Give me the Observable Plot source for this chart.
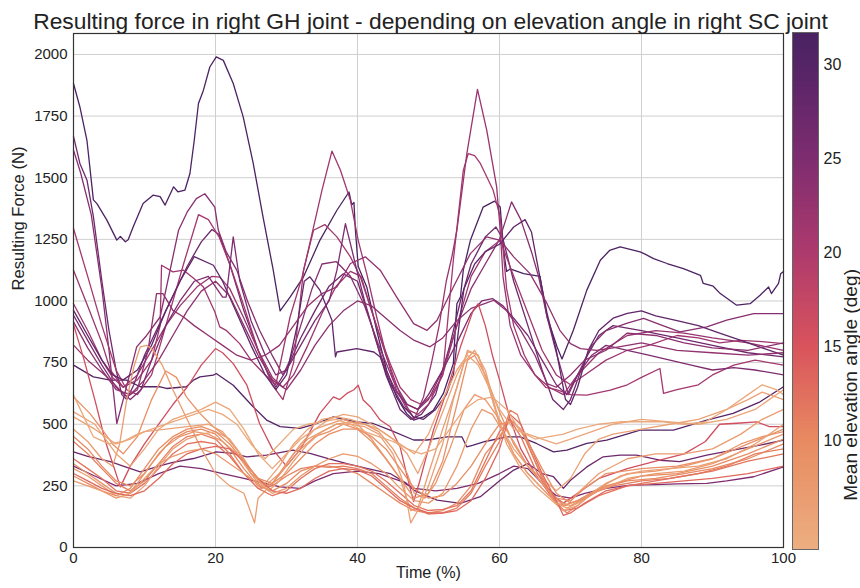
<!DOCTYPE html>
<html><head><meta charset="utf-8">
<script src="https://cdn.jsdelivr.net/npm/d3@7"></script>
<script src="https://cdn.jsdelivr.net/npm/@observablehq/plot@0.6"></script>
<style>
body{margin:0;background:#fff;font-family:"Liberation Sans",Arial,sans-serif;}
#wrap{position:relative;width:860px;height:588px;overflow:hidden;background:#fff}
#main{position:absolute;left:0;top:0}
#cbar{position:absolute;left:770px;top:0}
.lbl{position:absolute;white-space:nowrap;color:#222;line-height:1}
</style></head><body>
<div id="wrap"><div id="main"></div><div id="cbar"></div>
<span id="title" class="lbl">Resulting force in right GH joint - depending on elevation angle in right SC joint</span>
</div>
<script>
// ---------- data (time %, force N) ----------
const xTicks = [0, 20, 40, 60, 80, 100];
const yTicks = [0, 250, 500, 750, 1000, 1250, 1500, 1750, 2000];
const cbTicks = [10, 15, 20, 25, 30];
const angleRange = [4.2, 31.7];

const sA = [[0,1882],[0.9,1787],[1.9,1650],[2.8,1410],[3.3,1395],[4.7,1328],[6.1,1247],[6.6,1262],[7.3,1240],[7.7,1248],[8.4,1300],[9.8,1395],[11.2,1429],[12.2,1423],[12.9,1389],[14.1,1463],[14.7,1443],[15.7,1450],[16.4,1517],[17,1650],[17.6,1801],[18.3,1855],[19.2,1949],[20.1,1990],[21.1,1976],[22.5,1882],[23.9,1747],[25.3,1560],[26.7,1340],[28.1,1130],[29.1,960],[30.5,1016],[32.4,1098],[34.7,1246],[37.1,1368],[38.8,1442],[39.2,1390],[39.5,1400],[39.7,1290],[40.1,1140],[41.3,1057],[42.7,881],[44.1,719],[45.5,611],[46.9,544],[47.9,517],[49.3,530],[50.7,557],[52.1,625],[53.5,746],[53.8,900],[54,989],[54.5,1016],[54.9,1125],[55.9,1246],[57.7,1381],[59.3,1405],[60.1,1381],[60.6,1200],[61,1120],[61.5,1130],[63.4,1111],[65.7,1100],[66.7,935],[68.1,814],[68.8,765],[70.4,881],[72.3,1044],[74.2,1165],[75.5,1205],[77,1219],[79.8,1199],[80.5,1190],[81.7,1172],[83.6,1152],[85.9,1131],[88.3,1104],[88.7,1071],[90.1,1060],[91.1,1030],[93.4,983],[95.3,989],[96.7,1023],[97.9,1057],[98.3,1030],[99.3,1071],[99.6,1110],[100,1120]];
const sU2 = [[0,1668],[0.9,1558],[1.9,1490],[2.8,1342],[4,1080],[5,880],[6,720],[6.8,620],[7.5,600],[8.5,660],[10,780],[12,900],[14,1020],[16,1140],[18,1240],[19.5,1290],[20.5,1270],[22,1150],[24,960],[26,800],[27.5,700],[28.5,650],[30,720],[32,850],[34,960],[36,1060],[38,1110],[40,1080],[42,900],[44,700],[46,560],[47.5,520],[49,540],[51,620],[53,820],[54.5,1000],[56,1150],[58,1260],[59.5,1300],[60.5,1250],[62,1080],[64,900],[66,720],[67.5,600],[69,560],[70,600],[72,760],[74,860],[76,900],[80,880],[85,850],[90,820],[95,790],[100,773]];
const sU3 = [[0,1612],[1,1520],[2.5,1350],[4,1050],[5,800],[6.1,503],[7,600],[8.9,814],[10.3,860],[12.2,935],[14.8,1287],[16,1360],[17.3,1415],[18.5,1435],[19.9,1381],[20.4,1287],[21.5,1200],[23,1125],[24.5,1000],[26.2,881],[28.1,773],[29.5,700],[30.5,760],[32,900],[33.6,1050],[35,1150],[37,1160],[39,1100],[41,980],[43,820],[45,680],[47,580],[48.5,560],[50,600],[52,720],[54,900],[56,1050],[58,1150],[60,1250],[61.7,1402],[63,1330],[64.5,1200],[65.5,1100],[66.7,935],[68.1,780],[69.7,620],[71,700],[73,820],[75,880],[78,910],[80.3,929],[83,900],[85.4,875],[89.2,895],[92,922],[95.8,949],[100,949]];
const sU4 = [[0,1294],[2,1100],[4,900],[6,720],[7.5,640],[9,620],[11,700],[13,900],[15.5,1150],[17.6,1350],[19,1330],[20.5,1260],[22,1150],[24,980],[26,800],[28,660],[29.5,600],[31,750],[32.4,1125],[33.8,1287],[35.4,1310],[37.1,1260],[39,1179],[40.4,1098],[41.8,976],[43.2,854],[44.6,746],[46,650],[47.5,600],[49,580],[50.5,620],[52,700],[53.5,1166],[54.9,1530],[55.6,1598],[56.5,1590],[57.3,1558],[59.1,1450],[60.1,1341],[61,1050],[62,900],[63.5,780],[65,700],[66.5,650],[68,640],[70,620],[72.3,618],[75.6,638],[78,660],[80,690],[82.6,726],[83.1,625],[85,640],[88,660],[90,700],[93,740],[96,760],[100,740]];
const sU5 = [[0,1125],[2,980],[4,830],[5.2,719],[7,650],[9,700],[11,800],[13,900],[15,980],[17.5,1060],[19.5,1100],[20.6,1097],[22,1050],[24,930],[26,800],[28,690],[29.5,650],[31,700],[33,820],[35,950],[37,1060],[39,1120],[40.5,1100],[42,960],[44,780],[46,620],[48,520],[49.3,611],[50.5,760],[51.5,900],[52.5,1080],[53.3,1180],[54,1287],[55.4,1598],[56.9,1858],[58.2,1693],[59.6,1463],[60.1,1287],[60.5,1098],[61.5,900],[63,780],[65,700],[67,650],[69,620],[71,700],[74,790],[78,860],[82,880],[86,870],[90,850],[95,830],[100,800]];
const sU6 = [[0,989],[2,880],[4,760],[5.5,690],[7,650],[9,680],[11,760],[12.2,900],[12.4,1145],[14,1118],[15.5,1125],[17,1090],[18.3,1057],[19.9,956],[20.6,895],[21.5,881],[23.4,827],[25,760],[27,700],[28.5,660],[30.5,935],[32.2,1098],[33.6,1273],[35,1450],[36.4,1608],[37.6,1530],[39,1408],[40.1,1246],[41.3,1111],[42.7,935],[44.1,773],[45.5,638],[47,560],[48.5,540],[50,580],[52,700],[54,900],[56,1100],[58,1200],[60.1,1246],[62,1100],[64,950],[66,800],[68,700],[70,660],[72,700],[75,760],[78,800],[81,820],[85,860],[88,850],[91,830],[94,840],[97,835],[100,827]];
const sU7 = [[0,962],[2,860],[4,760],[5.5,700],[7,680],[9,720],[11,820],[13,960],[15,1080],[17,1180],[19.7,1145],[21,1080],[23,950],[25,820],[27,700],[28.5,640],[30,700],[31.5,900],[32.5,1080],[33.3,1098],[34.7,1044],[36.4,922],[36.9,773],[37.1,793],[39.9,807],[42.3,793],[43.2,773],[44.6,665],[46.5,571],[47.9,530],[49.3,520],[51,560],[52.5,620],[53.5,700],[54.3,900],[55,1050],[56.5,1150],[58,1200],[60,1230],[62,1300],[63.6,1330],[64.5,1280],[65.5,1125],[66.7,950],[68,800],[69.3,600],[70,580],[71,650],[72.5,800],[74,880],[76,930],[78,950],[80,960],[82,940],[85,920],[88,900],[91,870],[94,840],[97,810],[100,780]];
const sU8 = [[0,942],[2,840],[4,740],[6,650],[8,600],[9.5,640],[11,760],[13,900],[15,1000],[17,1080],[19,1100],[21,1016],[21.5,1016],[22.5,1260],[23.4,1084],[25,920],[27,780],[28.5,700],[30,720],[32,820],[34,920],[36,1000],[37.1,1125],[38.3,1314],[39,1233],[39.9,1125],[41,1000],[42.5,850],[44,720],[45.5,630],[47,580],[48.5,560],[50,620],[52,720],[54,830],[56,950],[57.5,1000],[59,1010],[60.5,980],[62,930],[64,860],[66,760],[68,660],[69.5,620],[71,700],[73,780],[75,820],[78,800],[81,780],[84,760],[87,740],[90,720],[93,730],[96,720],[100,700]];
const sU9 = [[0,821],[2,760],[4,710],[5.2,679],[7.5,611],[9,640],[10.5,800],[11.7,1030],[12.6,1030],[14,962],[15.5,935],[17,900],[19,860],[21,820],[23,780],[25,760],[27,780],[29,820],[31,900],[33,980],[35,1030],[37.1,1057],[39,1152],[41.1,1179],[43.2,1125],[45.5,1017],[47.9,908],[49.8,881],[51.2,922],[53.5,1057],[55.9,1192],[58.2,1260],[60.1,1246],[62,1179],[64.3,1111],[66.7,989],[68.5,881],[70,827],[71.4,807],[73.7,800],[76,810],[80,830],[85,800],[90,790],[95,780],[100,790]];
const sU10 = [[0,740],[2.8,692],[5.2,679],[7.5,679],[9.4,652],[12.2,652],[13.1,645],[15.9,652],[16.9,679],[17.8,692],[19.7,699],[20.1,706],[22.5,658],[25.3,571],[27.2,517],[29.1,490],[31.9,483],[34,500],[36.6,530],[38,520],[39.9,510],[42.2,503],[44.6,476],[47.9,436],[49.8,436],[52.6,449],[54.7,449],[55.4,408],[56.3,415],[58,430],[61,449],[62.9,449],[65.2,422],[67.6,388],[69.5,395],[72.3,422],[75.1,436],[79.8,476],[84.5,476],[89.2,517],[92.9,544],[96.7,591],[100,652]];
const sU11 = [[0,915],[2,810],[4,720],[6,640],[8,620],[10,680],[12,760],[14,860],[16,960],[18,1040],[20,1080],[22,1020],[24,900],[26,780],[28,680],[30,640],[32,720],[34,820],[36,900],[38,960],[40,1000],[42,980],[44,930],[46,880],[48,840],[50.2,814],[52,850],[54,920],[56,970],[58,990],[59.2,1003],[61,960],[63,880],[65,780],[66.7,665],[68,650],[70,700],[72,760],[75,800],[78,870],[82,860],[86,830],[90,810],[95,800],[100,830]];
const sR1 = [[0,905],[1.5,760],[3,600],[4.5,430],[6.6,246],[8,330],[10,420],[12,500],[14,580],[16,650],[18,740],[20,807],[21,790],[22.5,746],[24.4,660],[26.2,503],[28,400],[30,330],[32,400],[33.5,480],[34.7,544],[36.6,611],[37.5,600],[38.5,625],[39.5,640],[40.1,658],[40.8,598],[41.8,571],[43.2,517],[44.6,490],[46,408],[46.9,300],[47.9,186],[48.8,273],[50.7,476],[52.6,638],[54.5,814],[56.3,962],[57,989],[58,900],[59,780],[60,680],[61.5,520],[63,400],[65,300],[67,220],[69,180],[71,220],[74,280],[78,320],[82,350],[86,380],[89,430],[91,500],[94,505],[96.2,510],[98,490],[100,490]];
const sP1 = [[0,388],[2,370],[5.2,348],[7,330],[9.4,307],[12,330],[14,345],[16.9,361],[20.1,388],[22.5,382],[24.4,368],[27.2,375],[30.9,395],[33.3,382],[36,360],[38.5,340],[41.3,321],[44.6,300],[46.9,260],[47.9,233],[51.2,192],[54.5,179],[57.3,206],[60.1,273],[62,314],[64,340],[66,300],[67.6,287],[69,240],[70,273],[72.3,327],[74.6,368],[77,375],[79.3,375],[82.6,354],[85.4,348],[89.2,375],[92.9,395],[96.7,415],[100,436]];
const sP3 = [[0,330],[3,290],[6,250],[9,260],[12,300],[15,330],[18,320],[21,300],[24,280],[27,260],[29.1,246],[31.9,240],[34,270],[36.6,300],[40,310],[43,300],[46,270],[48,240],[51,230],[54,240],[57,260],[60,300],[62,330],[64,320],[66,260],[68,210],[70,200],[72,220],[75,240],[78.4,253],[82,255],[85,258],[89.2,260],[92,270],[95.8,287],[100,327]];
const sO1 = [[0,480],[2,430],[4,360],[5.5,330],[6.5,420],[7.5,600],[8.5,733],[9.4,814],[10.3,820],[11.2,800],[12.5,740],[14,640],[16,520],[18,400],[20,300],[22,250],[24,220],[25.5,100],[26,200],[28,260],[30,340],[32,420],[34,480],[36,500],[38,520],[40,500],[42,440],[44,360],[46,280],[47.5,150],[48.5,160],[50,300],[52,480],[54,650],[55.5,800],[57,780],[58.5,650],[60,500],[62,380],[64,300],[66,240],[68,180],[69.5,170],[71,220],[74,300],[78,360],[82,380],[86,380],[90,400],[94,460],[97,520],[100,560]];
const sO2 = [[0,611],[2.3,544],[4,480],[5.5,420],[7,380],[9,450],[11,600],[13,716],[14.5,690],[15.9,611],[17.8,544],[19.7,490],[21.5,449],[23.5,380],[25,300],[26.5,240],[28,260],[30,330],[32,400],[34,450],[36,470],[38,500],[40,480],[42,430],[44,360],[46,280],[48,200],[50,220],[52,350],[54,580],[55.5,760],[56.5,780],[58,700],[60,550],[62,420],[64,330],[66,260],[68,200],[70,190],[72,240],[75,300],[80,320],[85,330],[90,360],[95,420],[100,480]];
const sO3 = [[0,530],[3,480],[6,420],[8,440],[10,470],[13,480],[16,490],[19,500],[21,470],[23,400],[25,300],[27,260],[29,330],[31,420],[33,480],[35,520],[37,530],[39,520],[41,500],[43,480],[45,440],[47,380],[48.5,300],[50,400],[52,550],[54,700],[55.6,794],[57,780],[58.5,650],[60,500],[62,400],[64,330],[66,280],[68,230],[70,280],[72,380],[74,440],[76,460],[80,480],[84,500],[88,520],[92,560],[95,600],[97,630],[100,600]];
const sO4 = [[0,450],[2,400],[4,330],[6,270],[8,250],[10,300],[12,380],[14,440],[16,470],[18,480],[20,460],[22,400],[24,320],[26,250],[28,230],[30,260],[32,310],[34,330],[36,330],[38,320],[40,300],[42,260],[44,220],[46,180],[48,150],[50,140],[52,150],[54,180],[56,250],[58,380],[60,450],[61.5,520],[63,480],[65,350],[67,230],[69,170],[71,190],[74,240],[78,270],[82,280],[86,300],[90,320],[95,360],[100,420]];
const sO5 = [[0,430],[2,380],[4,320],[6,260],[8,230],[10,270],[12,340],[14,410],[16,450],[18,460],[20,440],[22,380],[24,300],[26,240],[28,250],[30,290],[32,320],[34,330],[36,325],[38,330],[40,320],[42,300],[44,250],[46,200],[48,160],[50,135],[52,140],[54,160],[56,220],[58,330],[60,430],[61.5,557],[62.5,540],[64,420],[66,280],[68,180],[69.5,140],[71,170],[73,220],[76,250],[80,270],[84,280],[88,300],[92,330],[96,380],[100,400]];
const sO6 = [[0,360],[2,320],[4,280],[6,230],[8,220],[10,260],[12,320],[14,380],[16,420],[18,430],[20,420],[22,370],[24,300],[26,240],[28,210],[30,230],[32,280],[34,320],[36,340],[38,340],[40,330],[42,310],[44,270],[46,220],[48,170],[50,150],[52,155],[54,170],[56,230],[58,350],[60,470],[61.5,520],[63,450],[65,320],[67,220],[69,150],[71,160],[74,210],[78,250],[82,270],[86,290],[90,310],[95,350],[100,380]];
const sO7 = [[0,340],[2,300],[4,260],[6,220],[7.5,210],[9,260],[11,340],[13,410],[15,450],[17,470],[19,460],[21,430],[23,380],[25,300],[27,250],[29,300],[31,380],[33,440],[35,470],[37,500],[39,510],[41,500],[43,470],[45,400],[47,300],[48,220],[49.5,200],[51,260],[53,400],[55,560],[56.5,620],[58,600],[60,520],[62,430],[64,330],[66,260],[68,190],[70,170],[72,200],[75,260],[78,300],[82,310],[86,330],[90,360],[94,420],[97,450],[100,470]];
const sO8 = [[0,320],[2,290],[4,250],[6,210],[8,200],[10,250],[12,330],[14,400],[16,440],[18,460],[20,470],[22,440],[24,360],[26,270],[27.5,230],[29,270],[31,350],[33,420],[35,470],[37,500],[39,500],[41,490],[43,460],[45,380],[46.5,260],[47.5,100],[48.5,150],[50,250],[52,420],[53.5,600],[55,750],[56.5,800],[58,720],[59.5,560],[61,420],[63,320],[65,250],[67,200],[69,150],[71,170],[74,240],[77,290],[80,310],[84,320],[88,330],[92,360],[96,420],[100,500]];
const sO9 = [[0,300],[2,270],[4,240],[6,220],[8,210],[10,230],[12,280],[14,340],[16,380],[18,400],[20,410],[22,400],[24,350],[26,280],[28,230],[30,220],[32,240],[34,280],[36,310],[38,320],[40,315],[42,290],[44,240],[46,190],[48,160],[50,140],[52,140],[54,150],[56,190],[58,280],[60,400],[61.5,540],[63,500],[64.5,400],[66,300],[68,190],[69,130],[70,140],[72,180],[75,230],[78,250],[82,260],[86,270],[90,280],[95,300],[100,330]];
const sO10 = [[0,290],[2,260],[4,230],[6,210],[8,240],[10,320],[12,400],[14,450],[16,480],[18,490],[20,470],[22,420],[24,350],[26,280],[28,260],[30,300],[32,360],[34,420],[36,460],[38,480],[40,480],[42,450],[44,400],[46,320],[48,240],[50,200],[52,210],[54,260],[56,330],[58,420],[60,500],[62,510],[64,430],[66,320],[68,220],[70,180],[72,200],[75,250],[80,290],[85,300],[90,330],[95,380],[100,440]];
const sO11 = [[0,270],[2,250],[4,230],[6,200],[8,220],[10,280],[12,340],[14,370],[16,390],[18,400],[20,380],[22,340],[24,300],[26,260],[28,220],[30,240],[32,290],[34,330],[36,360],[38,380],[40,370],[42,340],[44,300],[46,240],[48,190],[50,180],[52,220],[54,330],[56,480],[57.5,560],[59,540],[60.5,470],[62,380],[64,300],[66,240],[68,180],[69.5,160],[71,180],[74,230],[78,280],[82,300],[86,310],[90,340],[95,400],[100,460]];
const sO12 = [[0,618],[2.8,449],[5,420],[7,430],[9,460],[11,480],[13,500],[15,520],[17,540],[19,560],[21,540],[23,500],[25,420],[27,360],[29,420],[31,480],[33,500],[35,510],[37,520],[39,500],[41,470],[43,450],[45,430],[47,400],[49,380],[51,400],[53,480],[55,560],[57,600],[59,610],[61,560],[63,470],[65,440],[67,450],[69,460],[71,480],[74,500],[77,510],[80,510],[83,510],[86,500],[89,510],[92,560],[95,620],[97,660],[99,640],[100,620]];
const sO13 = [[0,550],[3,500],[6,380],[8,330],[10,400],[12,480],[14,520],[16,540],[18,560],[20,590],[22,560],[24,480],[26,380],[28,320],[30,380],[32,440],[34,480],[36,520],[38,540],[40,530],[42,500],[44,460],[46,420],[48,380],[50,460],[52,600],[54,720],[55.5,780],[57,740],[58.5,650],[60,560],[62,480],[64,460],[66,440],[68,420],[70,440],[73,470],[76,500],[80,520],[84,510],[88,500],[92,520],[96,560],[100,640]];

// mean elevation angle (deg) of each trial, same order as the series list
const seriesList = [sU10, sP1, sP3, sA, sU2, sU3, sU4, sU5, sU6, sU7, sU8, sU9, sU11, sR1, sO1, sO2, sO3, sO4, sO5, sO6, sO7, sO8, sO9, sO10, sO11, sO12, sO13];
const angles     = [30,   27,  25,  31.5, 27, 24, 21, 22, 21.5, 28.5, 25, 23, 23.5, 16, 7, 9, 6, 10, 11, 12, 8, 6.5, 13, 9.5, 7.5, 5, 5.5];

// ---------- build table ----------
const rows = [];
seriesList.forEach((s, i) => s.forEach(([t, f]) => rows.push({id: i, t, f, angle: angles[i]})));

const colorStops = [4.2, 10, 15, 20, 25, 30, 31.7];
const colorRange = ["#ecae80", "#e88a61", "#d9535c", "#ad3a6d", "#7e2c70", "#542466", "#4a2362"];
const colorScale = {type: "linear", domain: colorStops, range: colorRange};

function fitSize(text, target, family) {
  const c = document.createElement("canvas").getContext("2d");
  c.font = `100px ${family}`;
  return 100 * target / c.measureText(text).width;
}
const FAM = "'Liberation Sans', Arial, sans-serif";
const ySize = fitSize("Resulting Force (N)", 144, FAM);
const xSize = fitSize("Time (%)", 65, FAM);
const cSize = fitSize("Mean elevation angle (deg)", 232, FAM);
const fmt = d => String(d);

const main = Plot.plot({
  width: 790, height: 588,
  marginLeft: 73, marginRight: 7, marginTop: 33, marginBottom: 41,
  style: {fontFamily: FAM, fontSize: "15px", color: "#222", background: "transparent", overflow: "visible"},
  x: {domain: [0, 100]},
  y: {domain: [0, 2085]},
  color: colorScale,
  marks: [
    Plot.gridX(xTicks, {stroke: "#cfcfcf", strokeOpacity: 1, strokeWidth: 1}),
    Plot.gridY(yTicks, {stroke: "#cfcfcf", strokeOpacity: 1, strokeWidth: 1}),
    Plot.line(rows, {x: "t", y: "f", z: "id", stroke: "angle", strokeWidth: 1.3}),
    Plot.frame({stroke: "#333", strokeWidth: 1.2}),
    Plot.axisX(xTicks, {tickSize: 0, tickPadding: 5, label: null, fontSize: 15, tickFormat: fmt}),
    Plot.axisY(yTicks, {tickSize: 0, tickPadding: 6, label: null, fontSize: 15, tickFormat: fmt}),
    Plot.text(["Time (%)"], {frameAnchor: "bottom", dy: 30, text: d => d, fontSize: xSize, fill: "#222"}),
    Plot.text(["Resulting Force (N)"], {frameAnchor: "left", dx: -55, rotate: -90, text: d => d, fontSize: ySize, fill: "#222"})
  ]
});
document.getElementById("main").appendChild(main);

const steps = d3.range(0, 276).map(i => angleRange[0] + i * 0.1);
const cbar = Plot.plot({
  width: 90, height: 588,
  marginLeft: 22, marginRight: 42, marginTop: 32, marginBottom: 39,
  style: {fontFamily: FAM, fontSize: "16px", color: "#222", background: "transparent", overflow: "visible"},
  x: {domain: [0, 1], axis: null},
  y: {domain: angleRange},
  color: colorScale,
  marks: [
    Plot.rect(steps, {x1: 0, x2: 1, y1: d => d, y2: d => Math.min(d + 0.12, angleRange[1]), fill: d => d + 0.05, shapeRendering: "crispEdges"}),
    Plot.frame({stroke: "#666", strokeWidth: 1}),
    Plot.axisY(cbTicks, {anchor: "right", tickSize: 0, tickPadding: 5, label: null, fontSize: 16, tickFormat: fmt}),
    Plot.text(["Mean elevation angle (deg)"], {frameAnchor: "right", dx: 32, dy: -22, rotate: -90, text: d => d, fontSize: cSize, fill: "#222"})
  ]
});
document.getElementById("cbar").appendChild(cbar);

// title fitted to the reference width
const title = document.getElementById("title");
title.style.fontSize = fitSize(title.textContent, 795, FAM) + "px";
const tw = title.getBoundingClientRect();
title.style.left = (430.5 - tw.width / 2) + "px";
title.style.top = (21 - tw.height / 2) + "px";
</script>
</body></html>
